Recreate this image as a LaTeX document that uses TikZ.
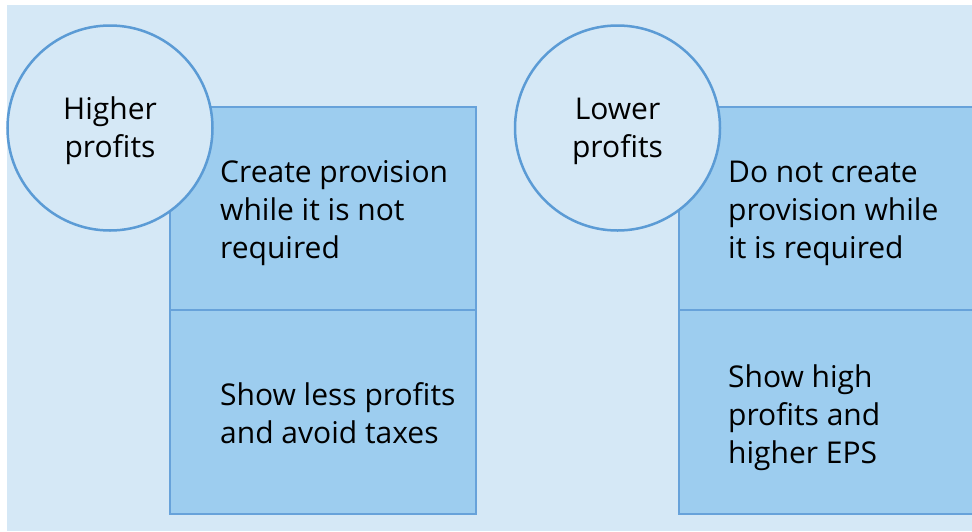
\documentclass[tikz,border=0pt]{standalone}
\usepackage{fontspec}
\setmainfont{Open Sans}
\definecolor{bgc}{HTML}{D5E8F6}
\definecolor{boxfill}{HTML}{9DCDEF}
\definecolor{boxline}{HTML}{67A2DA}
\definecolor{circline}{HTML}{5B9BD5}
\begin{document}
\begin{tikzpicture}[x=1pt,y=-1pt,
  boxst/.style={draw=boxline, fill=boxfill, line width=2.5pt, rectangle, minimum width=306pt, inner sep=0pt, outer sep=0pt},
  circst/.style={draw=circline, fill=bgc, line width=2.5pt, circle, minimum size=205pt, inner sep=0pt},
  txt/.style={font=\fontsize{30}{38}\selectfont, align=left, inner sep=0pt, anchor=base west},
  ctxt/.style={font=\fontsize{30}{38}\selectfont, align=center, inner sep=0pt, anchor=base}]
\useasboundingbox (0,0) rectangle (972,531);
\clip (0,0) rectangle (972,531);
\fill[white] (0,0) rectangle (972,531);
\fill[bgc] (7,5) rectangle (972,531);
% left group
\node[boxst, minimum height=203pt] (lt) at (323,208.5) {};
\node[boxst, minimum height=204pt] (lb) at (323,412) {};
\node[circst] (lc) at (110,128) {};
% right group
\node[boxst, minimum height=203pt] (rt) at (832,208.5) {};
\node[boxst, minimum height=204pt] (rb) at (832,412) {};
\node[circst] (rc) at (617.5,128) {};
% texts (base = baseline of last line)
\node[ctxt] (lct) at (110,157) {Higher\\profits};
\node[ctxt] (rct) at (617.5,157) {Lower\\profits};
\node[txt] (ltt) at (220,258) {Create provision\\while it is not\\required};
\node[txt] (lbt) at (220,443) {Show less profits\\and avoid taxes};
\node[txt] (rtt) at (728,258) {Do not create\\provision while\\it is required};
\node[txt] (rbt) at (728,463) {Show high\\profits and\\higher EPS};
\end{tikzpicture}
\end{document}
